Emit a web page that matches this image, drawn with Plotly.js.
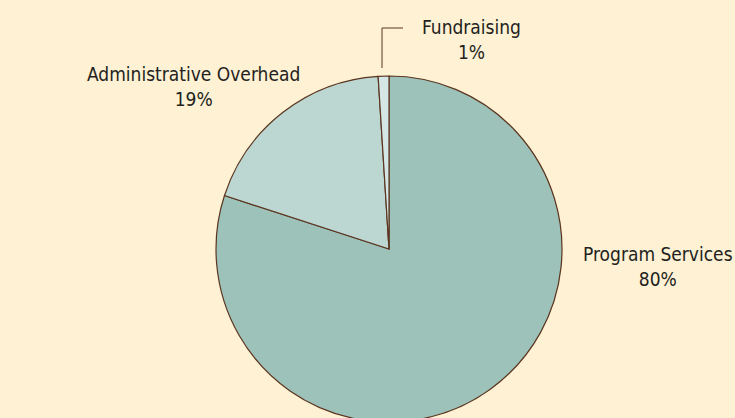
<!DOCTYPE html>
<html>
<head>
<meta charset="utf-8">
<script src="https://cdn.plot.ly/plotly-3.0.1.min.js"></script>
<style>
html, body { margin: 0; padding: 0; width: 735px; height: 418px; overflow: hidden; background: #FEF1D4; }
#chart { width: 735px; height: 500px; }
</style>
</head>
<body>
<div id="chart"></div>
<script>
const categories = ["Program Services", "Administrative Overhead", "Fundraising"];
const shares = [80, 19, 1];
const percentLabels = ["80%", "19%", "1%"];
const sliceColors = ["#9CC2B9", "#BCD7D2", "#D4E7E6"];

const W = 735, H = 500;
const cx = 389, cy = 249, R = 173;
const px = x => x / W;
const py = y => (H - y) / H;

const fontFam = '"DejaVu Sans Condensed", "Liberation Sans Narrow", Arial, sans-serif';

const labelPos = [
  {x: 658, y: 266},
  {x: 193, y: 86},
  {x: 471, y: 40}
];

const annotations = categories.map((c, i) => ({
  text: c + "<br>" + percentLabels[i],
  xref: "paper", yref: "paper",
  x: px(labelPos[i].x), y: py(labelPos[i].y),
  xanchor: "center", yanchor: "middle",
  showarrow: false,
  font: {family: fontFam, size: 19, color: "#231F20"}
}));

const data = [{
  type: "pie",
  labels: categories,
  values: shares,
  sort: false,
  direction: "clockwise",
  rotation: 0,
  textinfo: "none",
  hoverinfo: "label+percent",
  marker: {colors: sliceColors, line: {color: "#5B3520", width: 1.2}},
  domain: {x: [px(cx - R), px(cx + R)], y: [py(cy + R), py(cy - R)]},
  showlegend: false
}];

const layout = {
  width: W, height: H,
  margin: {l: 0, r: 0, t: 0, b: 0},
  paper_bgcolor: "#FEF1D4",
  plot_bgcolor: "#FEF1D4",
  showlegend: false,
  annotations: annotations,
  shapes: [{
    type: "path",
    xref: "paper", yref: "paper",
    path: `M ${px(382)} ${py(68)} L ${px(382)} ${py(28)} L ${px(403)} ${py(28)}`,
    line: {color: "#5B3520", width: 1}
  }]
};

Plotly.newPlot("chart", data, layout, {displayModeBar: false, staticPlot: true});
</script>
</body>
</html>
